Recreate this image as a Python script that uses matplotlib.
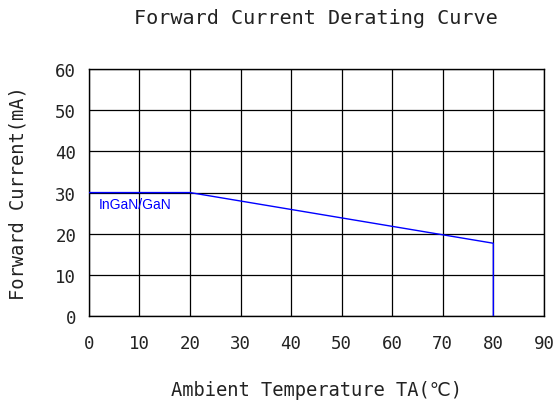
import matplotlib
matplotlib.use("Agg")
import matplotlib.pyplot as plt

# derating curve
temperature = [0, 20, 80, 80]
current = [30, 30, 17.7, 0]
x_ticks = [0, 10, 20, 30, 40, 50, 60, 70, 80, 90]
y_ticks = [0, 10, 20, 30, 40, 50, 60]

mono = "DejaVu Sans Mono"

fig = plt.figure(figsize=(5.55, 4.02), dpi=100)
ax = fig.add_axes([0.160, 0.211, 0.820, 0.615])

ax.plot(temperature, current, color="#0000ff", lw=1.0, zorder=3)
ax.text(2.0, 27.2, "InGaN/GaN", color="#0000ff", fontsize=10,
        family="Liberation Sans", va="center", ha="left")

ax.set_xlim(0, 90)
ax.set_ylim(0, 60)
ax.set_xticks(x_ticks)
ax.set_yticks(y_ticks)
ax.grid(True, color="black", lw=0.9)
ax.tick_params(length=0, labelsize=12.5, pad=9)
ax.tick_params(axis="x", pad=13)
for lab in ax.get_xticklabels() + ax.get_yticklabels():
    lab.set_family(mono)
    lab.set_color("#222222")
for s in ax.spines.values():
    s.set_color("black")
    s.set_linewidth(1.0)

ax.set_title("Forward Current Derating Curve", family=mono, fontsize=14.5,
             pad=33, color="#222222")
ax.set_xlabel("Ambient Temperature TA(℃)", family=[mono, "DejaVu Sans"],
              fontsize=13.5, labelpad=20, color="#222222")
ax.set_ylabel("Forward Current(mA)", family=mono, fontsize=13.5,
              labelpad=20, color="#222222")

fig.savefig("out.png", dpi=100)
